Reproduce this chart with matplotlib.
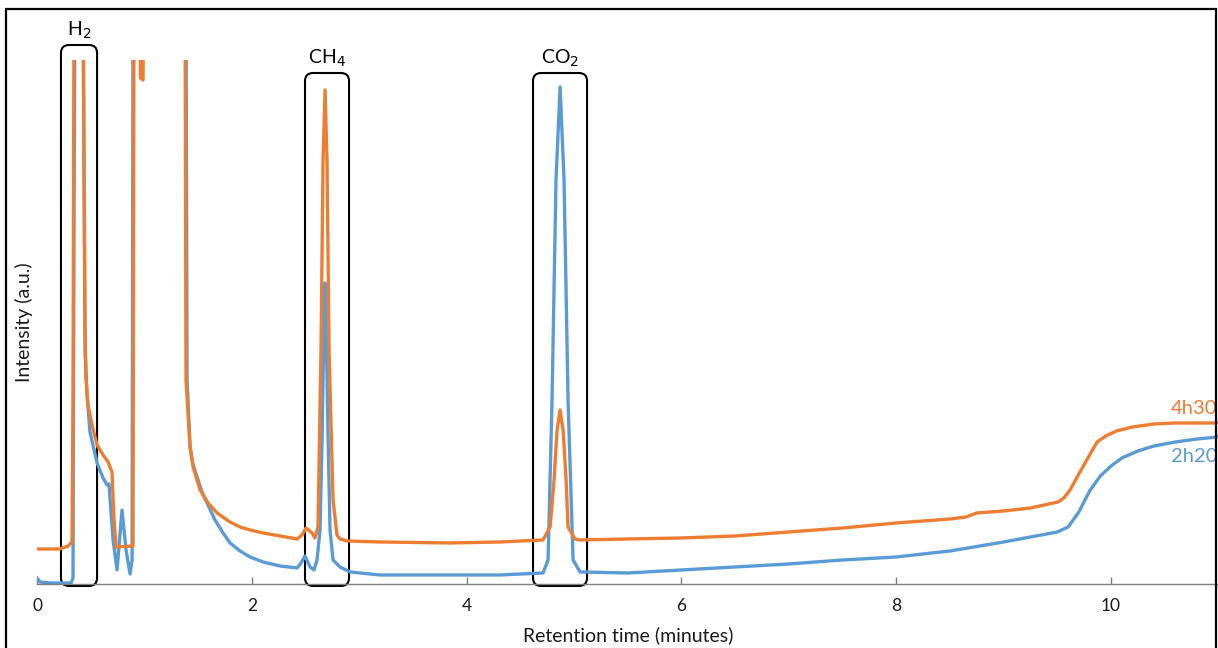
import matplotlib
matplotlib.use("Agg")
import matplotlib.pyplot as plt
from matplotlib.patches import FancyBboxPatch, Rectangle

plt.rcParams['font.family'] = ['Lato', 'DejaVu Sans']

# chromatogram traces (time in minutes, intensity in a.u.)
time_2h20 = [0.000, 0.028, 0.121, 0.317, 0.335, 0.345, 0.354, 0.428, 0.447, 0.466,
             0.493, 0.559, 0.615, 0.652, 0.670, 0.708, 0.745, 0.791, 0.829, 0.866,
             0.885, 0.894, 1.387, 1.397, 1.425, 1.453, 1.490, 1.536, 1.583, 1.657,
             1.732, 1.797, 1.890, 1.983, 2.104, 2.263, 2.421, 2.458, 2.495, 2.542,
             2.579, 2.607, 2.635, 2.654, 2.672, 2.682, 2.691, 2.710, 2.728, 2.756,
             2.821, 2.914, 3.194, 3.845, 4.311, 4.711, 4.758, 4.795, 4.832, 4.870,
             4.907, 4.944, 4.991, 5.056, 5.50, 6.00, 6.50, 7.00, 7.50, 8.00,
             8.50, 9.00, 9.25, 9.50, 9.60, 9.70, 9.80, 9.90, 10.00, 10.10,
             10.25, 10.40, 10.60, 10.80, 11.00]
signal_2h20 = [6, 2, 1, 1, 6, 384, 600, 600, 234, 189,
               152, 121, 106, 99, 100, 44, 14, 74, 34, 10,
               24, 600, 600, 204, 137, 119, 107, 92, 81, 64,
               51, 41, 33, 27, 22, 18, 16, 21, 28, 17,
               14, 24, 54, 144, 264, 301, 264, 144, 54, 24,
               17, 12, 9, 9, 9, 11, 24, 184, 404, 497,
               404, 184, 24, 12, 11, 14, 17, 20, 24, 27,
               33, 42, 47, 52, 57, 72, 93, 108, 118, 126,
               133, 138, 142, 145, 147]

time_4h30 = [0.000, 0.214, 0.289, 0.326, 0.335, 0.345, 0.428, 0.447, 0.456, 0.475,
             0.512, 0.559, 0.615, 0.661, 0.698, 0.717, 0.736, 0.894, 0.903, 0.959,
             0.963, 0.987, 0.991, 1.378, 1.387, 1.425, 1.453, 1.518, 1.592, 1.676,
             1.797, 1.890, 1.983, 2.104, 2.263, 2.421, 2.467, 2.505, 2.561, 2.588,
             2.616, 2.644, 2.663, 2.682, 2.700, 2.719, 2.756, 2.793, 2.821, 2.886,
             3.194, 3.845, 4.311, 4.711, 4.777, 4.814, 4.842, 4.870, 4.898, 4.926,
             4.944, 5.009, 5.056, 5.50, 6.00, 6.50, 7.00, 7.50, 8.00, 8.50,
             8.65, 8.75, 9.00, 9.25, 9.507, 9.56, 9.618, 9.70, 9.80, 9.87,
             9.95, 10.05, 10.20, 10.40, 10.60, 11.00]
signal_4h30 = [35, 35, 38, 42, 184, 600, 600, 254, 204, 179,
               159, 139, 129, 122, 112, 64, 37, 38, 600, 600,
               506, 504, 600, 600, 204, 137, 117, 94, 81, 71,
               62, 57, 54, 51, 48, 45, 49, 56, 51, 46,
               57, 234, 424, 494, 424, 234, 84, 49, 45, 43,
               42, 41, 42, 44, 57, 104, 154, 174, 154, 104,
               57, 45, 44, 45, 46, 48, 52, 56, 61, 65,
               67, 71, 73, 76, 82, 86, 94, 110, 129, 142,
               148, 153, 157, 160, 161, 161]

# peak windows: label, start, end, box top
peak_labels = ['H$_2$', 'CH$_4$', 'CO$_2$']
peak_start = [0.223, 2.495, 4.618]
peak_end = [0.559, 2.905, 5.121]
peak_top = [539, 511, 511]

x_ticks = [0, 2, 4, 6, 8, 10]
x_max = 11
y_max = 524

orange = '#ED7D31'
blue = '#5B9BD5'

fig = plt.figure(figsize=(12.18, 6.48), dpi=100)
ax = fig.add_axes([0.0304, 0.0988, 0.970, 0.8086])

ax.plot(time_2h20, signal_2h20, color=blue, lw=2.4, solid_joinstyle='round')
ax.plot(time_4h30, signal_4h30, color=orange, lw=2.4, solid_joinstyle='round')

ax.set_xlim(0, x_max)
ax.set_ylim(0, y_max)
ax.set_xticks(x_ticks)
ax.set_yticks([])
for side in ['top', 'right', 'left']:
    ax.spines[side].set_visible(False)
ax.spines['bottom'].set_color('#7f7f7f')
ax.spines['bottom'].set_linewidth(1.0)
ax.tick_params(axis='x', direction='in', length=5, width=1, color='#7f7f7f',
               pad=10, labelsize=12.5, labelcolor='#1a1a1a')
ax.set_xlabel('Retention time (minutes)', fontsize=14, color='#1a1a1a', labelpad=9)
ax.set_ylabel('Intensity (a.u.)', fontsize=14, color='#1a1a1a', labelpad=3)

# rounded boxes around the peaks of interest
px_per_min = ax.bbox.width / x_max
px_per_unit = ax.bbox.height / y_max
aspect = px_per_min / px_per_unit
for label, x0, x1, top in zip(peak_labels, peak_start, peak_end, peak_top):
    box = FancyBboxPatch((x0, -2), x1 - x0, top + 2,
                         boxstyle='round,pad=0,rounding_size=0.075',
                         mutation_aspect=aspect, transform=ax.transData,
                         fill=False, edgecolor='black', lw=1.5, clip_on=False)
    ax.add_patch(box)
    ax.annotate(label, ((x0 + x1) / 2, top), xytext=(0, 3),
                textcoords='offset points', ha='center', va='bottom',
                fontsize=14, color='black', annotation_clip=False)

# series labels at the right end
ax.annotate('4h30', (time_4h30[-1], signal_4h30[-1]), xytext=(-1, 4),
            textcoords='offset points', ha='right', va='bottom',
            fontsize=14.5, color=orange, annotation_clip=False)
ax.annotate('2h20', (time_2h20[-1], signal_2h20[-1]), xytext=(-1, -8),
            textcoords='offset points', ha='right', va='top',
            fontsize=14.5, color=blue, annotation_clip=False)

# frame around the whole picture
fig.patches.append(Rectangle((0.005, -0.05), 0.9935, 1.036, transform=fig.transFigure,
                             fill=False, edgecolor='black', lw=1.6))

fig.savefig('out.png', dpi=100)
